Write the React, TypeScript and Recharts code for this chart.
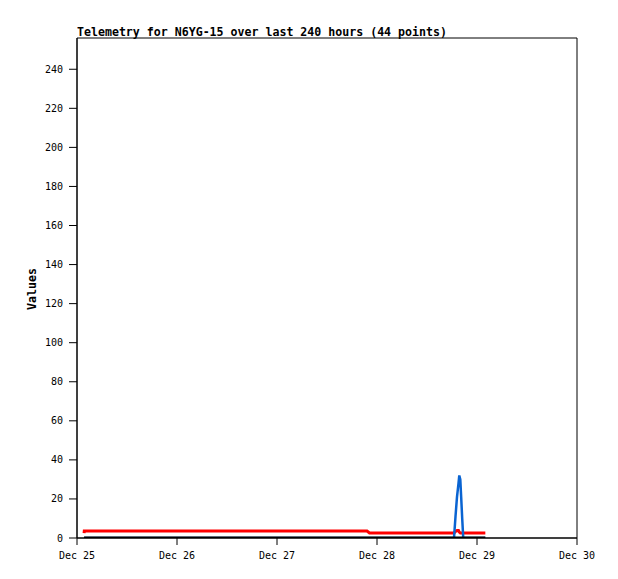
import React from 'react';
import { LineChart, Line, XAxis, YAxis, ReferenceArea } from 'recharts';

// hours since Dec 25 00:00
const hours = [
  1.7, 1.75, 4, 6.5, 9, 11.5, 14, 17, 20, 23, 26, 29, 32, 35, 38, 41, 44, 47, 50, 53, 56, 59, 62, 65, 68, 69.6,
  70.2, 73, 76, 79, 82, 85, 88,
  90.48, 90.84, 91.2, 91.56, 91.75, 91.99, 92.2, 92.45, 92.7,
  95, 98,
];
const redValues = [
  2.5, 3.6, 3.6, 3.6, 3.6, 3.6, 3.6, 3.6, 3.6, 3.6, 3.6, 3.6, 3.6, 3.6, 3.6, 3.6, 3.6, 3.6, 3.6, 3.6, 3.6, 3.6, 3.6, 3.6, 3.6, 3.6,
  2.6, 2.6, 2.6, 2.6, 2.6, 2.6, 2.6,
  2.6, 3.4, 3.8, 3.8, 3.0, 2.6, 2.6, 2.6, 2.6,
  2.6, 2.6,
];
const blueValues = [
  0, 0, 0, 0, 0, 0, 0, 0, 0, 0, 0, 0, 0, 0, 0, 0, 0, 0, 0, 0, 0, 0, 0, 0, 0, 0,
  0, 0, 0, 0, 0, 0, 0,
  0, 11, 21, 28, 32, 30, 21, 10, 0,
  0, 0,
];
const blackValues = hours.map(() => 0);

const xTicks = [0, 24, 48, 72, 96, 120];
const xTickLabels = ['Dec 25', 'Dec 26', 'Dec 27', 'Dec 28', 'Dec 29', 'Dec 30'];
const yTicks = [0, 20, 40, 60, 80, 100, 120, 140, 160, 180, 200, 220, 240];

const title = 'Telemetry for N6YG-15 over last 240 hours (44 points)';
const yLabel = 'Values';

const data = hours.map((h, i) => ({
  h,
  red: redValues[i],
  blue: blueValues[i],
  black: blackValues[i],
}));

const MONO = '"DejaVu Sans Mono", "Liberation Mono", monospace';

export default function App() {
  return (
    <div style={{ position: 'relative', width: 602, height: 563 }}>
      <div
        style={{
          position: 'absolute',
          left: 69,
          top: 17,
          fontFamily: MONO,
          fontWeight: 'bold',
          fontSize: 11.6,
          lineHeight: '14px',
          whiteSpace: 'nowrap',
          color: '#000',
        }}
      >
        {title}
      </div>
      <div
        style={{
          position: 'absolute',
          left: 24,
          top: 281,
          width: 0,
          height: 0,
        }}
      >
        <div
          style={{
            position: 'absolute',
            transform: 'translate(-50%, -50%) rotate(-90deg)',
            fontFamily: MONO,
            fontWeight: 'bold',
            fontSize: 11.6,
            whiteSpace: 'nowrap',
            color: '#000',
          }}
        >
          {yLabel}
        </div>
      </div>
      <LineChart
        width={602}
        height={563}
        data={data}
        margin={{ top: 30, right: 33, bottom: 0, left: 0 }}
      >
        <XAxis
          dataKey="h"
          type="number"
          domain={[0, 120]}
          ticks={xTicks}
          tickFormatter={(v: number) => xTickLabels[xTicks.indexOf(v)]}
          height={33}
          stroke="#000"
          tickSize={7}
          tickMargin={7}
          tick={{ fill: '#000', fontSize: 10, fontFamily: MONO }}
          allowDataOverflow
        />
        <YAxis
          type="number"
          domain={[0, 256]}
          ticks={yTicks}
          width={69}
          stroke="#000"
          tickSize={8}
          tickMargin={6}
          tick={{ fill: '#000', fontSize: 10, fontFamily: MONO }}
          allowDataOverflow
        />
        <ReferenceArea x1={0} x2={120} y1={0} y2={256} fill="none" stroke="#000" strokeWidth={1} />
        <Line type="linear" dataKey="red" stroke="#ff0000" strokeWidth={3} dot={false} isAnimationActive={false} />
        <Line type="linear" dataKey="blue" stroke="#0a64d2" strokeWidth={2.5} dot={false} isAnimationActive={false} />
        <Line type="linear" dataKey="black" stroke="#000000" strokeWidth={3} dot={false} isAnimationActive={false} />
      </LineChart>
    </div>
  );
}
